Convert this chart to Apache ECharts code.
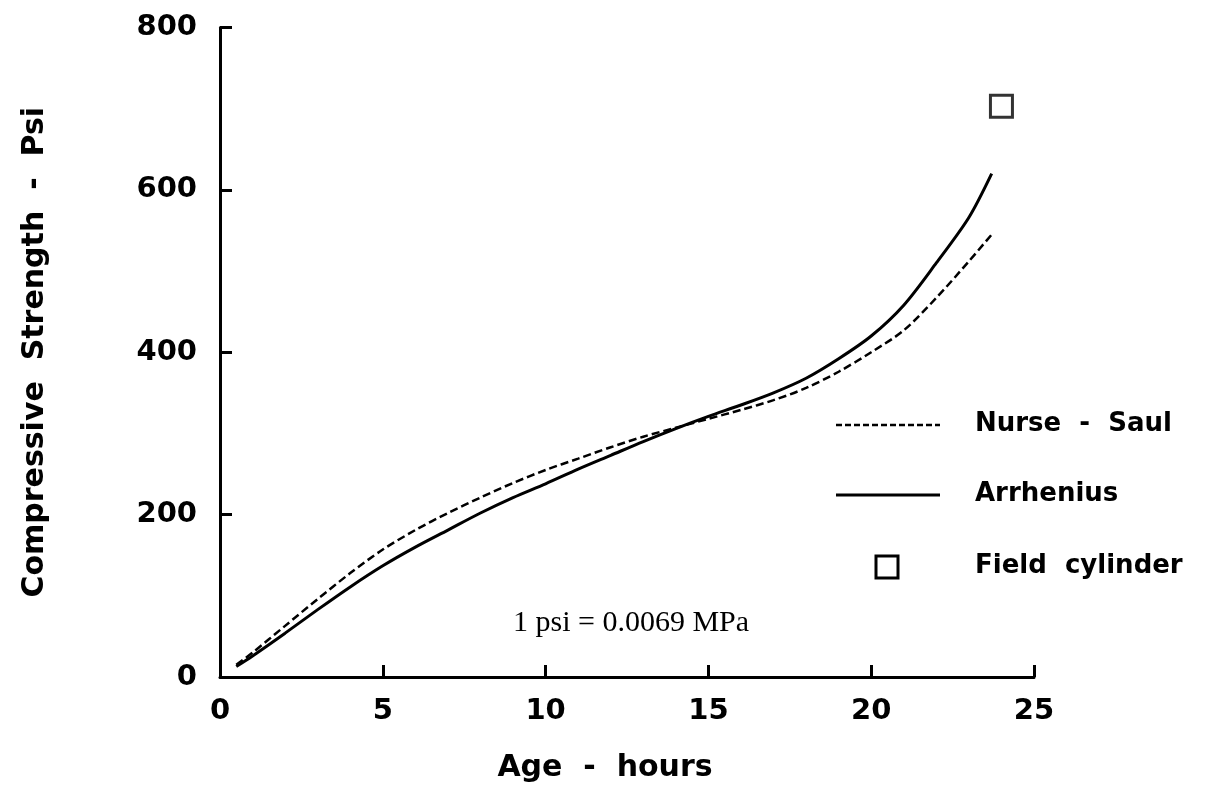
<!DOCTYPE html>
<html>
<head>
<meta charset="utf-8">
<script src="https://cdn.jsdelivr.net/npm/echarts@6/dist/echarts.min.js"></script>
<style>html,body{margin:0;padding:0;background:#fff;}#c{width:1219px;height:791px;}</style>
</head>
<body>
<div id="c"></div>
<script>
var hours = [0.5, 1, 2, 3, 4, 5, 6, 7, 8, 9, 10, 11, 12, 13, 14, 15, 16, 17, 18, 19, 20, 21, 22, 23, 23.7];
var nurseSaul = [15, 30, 63, 96, 128, 157, 181, 202, 221, 239, 255, 269, 283, 296, 307, 318, 329, 341, 356, 376, 400, 427, 467, 512, 545];
var arrhenius = [13, 26, 54, 83, 111, 137, 160, 181, 202, 221, 238, 256, 273, 290, 306, 321, 335, 350, 368, 392, 420, 458, 510, 566, 620];
var fieldCylinder = [[24, 703]];
var xTicks = [0, 5, 10, 15, 20, 25];
var yTicks = [0, 200, 400, 600, 800];
var seriesNames = ['Nurse  -  Saul', 'Arrhenius', 'Field  cylinder'];
var noteText = '1 psi = 0.0069 MPa';

function pairs(xs, ys) { return xs.map(function (x, i) { return [x, ys[i]]; }); }

var FONT = '"DejaVu Sans", Verdana, sans-serif';
var chart = echarts.init(document.getElementById('c'), null, { renderer: 'canvas' });
var axisCommon = {
  axisLine: { show: true, lineStyle: { color: '#000', width: 3 } },
  axisTick: { show: true, inside: true, length: 12, lineStyle: { color: '#000', width: 3 } },
  splitLine: { show: false },
  axisLabel: { color: '#000', fontFamily: FONT, fontWeight: 'bold', fontSize: 29 },
  nameTextStyle: { color: '#000', fontFamily: FONT, fontWeight: 'bold', fontSize: 30 }
};
chart.setOption({
  animation: false,
  backgroundColor: '#fff',
  grid: { left: 220, right: 185, top: 27.5, bottom: 114, containLabel: false },
  xAxis: Object.assign({}, axisCommon, {
    type: 'value', min: xTicks[0], max: xTicks[xTicks.length - 1], interval: 5,
    name: 'Age  -  hours', nameLocation: 'middle', nameGap: 76,
    nameTextStyle: Object.assign({}, axisCommon.nameTextStyle, { padding: [0, 44, 0, 0] }),
    axisLabel: Object.assign({}, axisCommon.axisLabel, { margin: 20 })
  }),
  yAxis: Object.assign({}, axisCommon, {
    type: 'value', min: yTicks[0], max: yTicks[yTicks.length - 1], interval: 200,
    name: 'Compressive  Strength  -  Psi', nameLocation: 'middle', nameGap: 170,
    axisLabel: Object.assign({}, axisCommon.axisLabel, { margin: 23 })
  }),
  series: [
    { name: seriesNames[0], type: 'line', data: pairs(hours, nurseSaul), smooth: 0.3, symbol: 'none',
      lineStyle: { color: '#000', width: 2.5, type: [8, 4] } },
    { name: seriesNames[1], type: 'line', data: pairs(hours, arrhenius), smooth: 0.3, symbol: 'none',
      lineStyle: { color: '#000', width: 3 } },
    { name: seriesNames[2], type: 'scatter', data: fieldCylinder, symbol: 'rect', symbolSize: 22,
      itemStyle: { color: '#fff', borderColor: '#000', borderWidth: 3 } }
  ],
  graphic: [
    { type: 'text', x: 513, y: 623, style: { text: noteText, fill: '#000', font: '30px "Liberation Serif", "Times New Roman", serif', verticalAlign: 'middle' } },
    { type: 'line', shape: { x1: 836, y1: 425, x2: 940, y2: 425 }, style: { stroke: '#000', lineWidth: 2.5, lineDash: [6, 3] } },
    { type: 'text', x: 975, y: 424, style: { text: seriesNames[0], fill: '#000', font: 'bold 26px ' + FONT, verticalAlign: 'middle' } },
    { type: 'line', shape: { x1: 836, y1: 495, x2: 940, y2: 495 }, style: { stroke: '#000', lineWidth: 3 } },
    { type: 'text', x: 975, y: 494, style: { text: seriesNames[1], fill: '#000', font: 'bold 26px ' + FONT, verticalAlign: 'middle' } },
    { type: 'rect', shape: { x: 876, y: 556, width: 22, height: 22 }, style: { fill: '#fff', stroke: '#000', lineWidth: 3 } },
    { type: 'text', x: 975, y: 566, style: { text: seriesNames[2], fill: '#000', font: 'bold 26px ' + FONT, verticalAlign: 'middle' } }
  ]
});
</script>
</body>
</html>
